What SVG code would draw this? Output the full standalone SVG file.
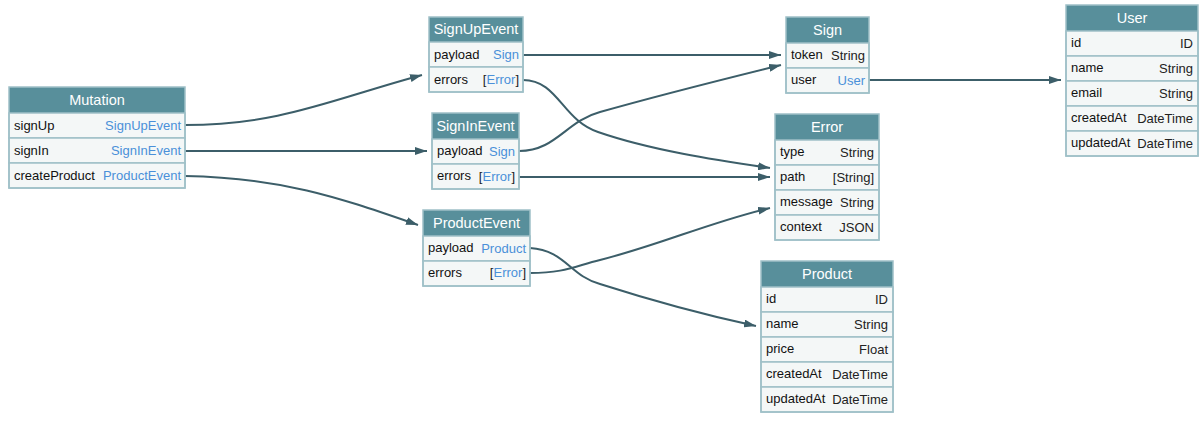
<svg xmlns="http://www.w3.org/2000/svg" width="1203" height="421" viewBox="0 0 1203 421">
  <style>
    .hdr { fill: #588f9b; }
    .row { fill: #f4f7f7; stroke: #9fc0c7; stroke-width: 1.5; }
    .frame { fill: none; stroke: #9fc0c7; stroke-width: 1.5; }
    text { font-family: "Liberation Sans", Arial, sans-serif; font-size: 13px; }
    .title { fill: #ffffff; font-size: 14.5px; text-anchor: middle; }
    .fld { fill: #111111; }
    .typ { fill: #222222; text-anchor: end; }
    .lnk { fill: #4a90d9; text-anchor: end; }
    .edge { fill: none; stroke: #3c5e69; stroke-width: 2; }
  </style>
  <defs>
    <marker id="arrow" viewBox="0 0 12 8" refX="12" refY="4" markerWidth="12" markerHeight="8" markerUnits="userSpaceOnUse" orient="auto">
      <path d="M0,0 L12,4 L0,8 Z" fill="#3c5e69"/>
    </marker>
  </defs>

  <!-- connectors -->
  <g id="connectors">
    <path class="edge" marker-end="url(#arrow)" d="M185,125 C280,125 330,100 422,75"/>
    <path class="edge" marker-end="url(#arrow)" d="M185,151 L427,151"/>
    <path class="edge" marker-end="url(#arrow)" d="M185,176 C285,178 340,198 418,225"/>
    <path class="edge" marker-end="url(#arrow)" d="M523,55 L781,55"/>
    <path class="edge" marker-end="url(#arrow)" d="M523,80 C558,80 562,120 598,132 C650,150 715,160 770,168"/>
    <path class="edge" marker-end="url(#arrow)" d="M519,151 C556,151 566,121 600,112 C660,95 720,80 781,65"/>
    <path class="edge" marker-end="url(#arrow)" d="M519,177 L770,177"/>
    <path class="edge" marker-end="url(#arrow)" d="M869,80 L1061,80"/>
    <path class="edge" marker-end="url(#arrow)" d="M530,248 C565,250 570,276 600,284 C650,300 700,314 756,326"/>
    <path class="edge" marker-end="url(#arrow)" d="M530,273 C565,273 575,266 600,260 C660,245 710,222 770,208"/>
  </g>

  <!-- Mutation -->
  <g id="node-Mutation">
    <rect class="hdr" x="9" y="87" width="176" height="26"/>
    <rect class="row" x="9" y="113" width="176" height="25"/>
    <rect class="row" x="9" y="138" width="176" height="25"/>
    <rect class="row" x="9" y="163" width="176" height="25"/>
    <rect class="frame" x="9" y="87" width="176" height="101"/>
    <text class="title" x="97" y="105">Mutation</text>
    <text class="fld" x="14" y="130">signUp</text><text class="lnk" x="181" y="130">SignUpEvent</text>
    <text class="fld" x="14" y="155">signIn</text><text class="lnk" x="181" y="155">SignInEvent</text>
    <text class="fld" x="14" y="180">createProduct</text><text class="lnk" x="181" y="180">ProductEvent</text>
  </g>

  <!-- SignUpEvent -->
  <g id="node-SignUpEvent">
    <rect class="hdr" x="429" y="17" width="94" height="25"/>
    <rect class="row" x="429" y="42" width="94" height="25"/>
    <rect class="row" x="429" y="67" width="94" height="25"/>
    <rect class="frame" x="429" y="17" width="94" height="75"/>
    <text class="title" x="476" y="34">SignUpEvent</text>
    <text class="fld" x="434" y="59">payload</text><text class="lnk" x="519" y="59">Sign</text>
    <text class="fld" x="434" y="84">errors</text>
    <text class="lnk" x="519" y="84"><tspan fill="#222">[</tspan>Error<tspan fill="#222">]</tspan></text>
  </g>

  <!-- SignInEvent -->
  <g id="node-SignInEvent">
    <rect class="hdr" x="432" y="113" width="87" height="26"/>
    <rect class="row" x="432" y="139" width="87" height="25"/>
    <rect class="row" x="432" y="164" width="87" height="25"/>
    <rect class="frame" x="432" y="113" width="87" height="76"/>
    <text class="title" x="475.5" y="131">SignInEvent</text>
    <text class="fld" x="437" y="155">payload</text><text class="lnk" x="515" y="156">Sign</text>
    <text class="fld" x="437" y="180">errors</text>
    <text class="lnk" x="515" y="181"><tspan fill="#222">[</tspan>Error<tspan fill="#222">]</tspan></text>
  </g>

  <!-- ProductEvent -->
  <g id="node-ProductEvent">
    <rect class="hdr" x="423" y="210" width="107" height="26"/>
    <rect class="row" x="423" y="236" width="107" height="25"/>
    <rect class="row" x="423" y="261" width="107" height="25"/>
    <rect class="frame" x="423" y="210" width="107" height="76"/>
    <text class="title" x="476.5" y="228">ProductEvent</text>
    <text class="fld" x="428" y="252">payload</text><text class="lnk" x="526" y="253">Product</text>
    <text class="fld" x="428" y="277">errors</text>
    <text class="lnk" x="526" y="277"><tspan fill="#222">[</tspan>Error<tspan fill="#222">]</tspan></text>
  </g>

  <!-- Sign -->
  <g id="node-Sign">
    <rect class="hdr" x="786" y="17" width="83" height="26"/>
    <rect class="row" x="786" y="43" width="83" height="25"/>
    <rect class="row" x="786" y="68" width="83" height="25"/>
    <rect class="frame" x="786" y="17" width="83" height="76"/>
    <text class="title" x="827.5" y="35">Sign</text>
    <text class="fld" x="791" y="59">token</text><text class="typ" x="865" y="60">String</text>
    <text class="fld" x="791" y="84">user</text><text class="lnk" x="865" y="85">User</text>
  </g>

  <!-- Error -->
  <g id="node-Error">
    <rect class="hdr" x="775" y="114" width="104" height="26"/>
    <rect class="row" x="775" y="140" width="104" height="25"/>
    <rect class="row" x="775" y="165" width="104" height="25"/>
    <rect class="row" x="775" y="190" width="104" height="25"/>
    <rect class="row" x="775" y="215" width="104" height="25"/>
    <rect class="frame" x="775" y="114" width="104" height="126"/>
    <text class="title" x="827" y="132">Error</text>
    <text class="fld" x="780" y="156">type</text><text class="typ" x="874" y="157">String</text>
    <text class="fld" x="780" y="181">path</text><text class="typ" x="874" y="182">[String]</text>
    <text class="fld" x="780" y="206">message</text><text class="typ" x="874" y="207">String</text>
    <text class="fld" x="780" y="231">context</text><text class="typ" x="874" y="232">JSON</text>
  </g>

  <!-- User -->
  <g id="node-User">
    <rect class="hdr" x="1066" y="5" width="132" height="26"/>
    <rect class="row" x="1066" y="31" width="132" height="25"/>
    <rect class="row" x="1066" y="56" width="132" height="25"/>
    <rect class="row" x="1066" y="81" width="132" height="25"/>
    <rect class="row" x="1066" y="106" width="132" height="25"/>
    <rect class="row" x="1066" y="131" width="132" height="25"/>
    <rect class="frame" x="1066" y="5" width="132" height="151"/>
    <text class="title" x="1132" y="23">User</text>
    <text class="fld" x="1071" y="47">id</text><text class="typ" x="1193" y="48">ID</text>
    <text class="fld" x="1071" y="72">name</text><text class="typ" x="1193" y="73">String</text>
    <text class="fld" x="1071" y="97">email</text><text class="typ" x="1193" y="98">String</text>
    <text class="fld" x="1071" y="122">createdAt</text><text class="typ" x="1193" y="123">DateTime</text>
    <text class="fld" x="1071" y="147">updatedAt</text><text class="typ" x="1193" y="148">DateTime</text>
  </g>

  <!-- Product -->
  <g id="node-Product">
    <rect class="hdr" x="761" y="261" width="132" height="26"/>
    <rect class="row" x="761" y="287" width="132" height="25"/>
    <rect class="row" x="761" y="312" width="132" height="25"/>
    <rect class="row" x="761" y="337" width="132" height="25"/>
    <rect class="row" x="761" y="362" width="132" height="25"/>
    <rect class="row" x="761" y="387" width="132" height="25"/>
    <rect class="frame" x="761" y="261" width="132" height="151"/>
    <text class="title" x="827" y="279">Product</text>
    <text class="fld" x="766" y="303">id</text><text class="typ" x="888" y="304">ID</text>
    <text class="fld" x="766" y="328">name</text><text class="typ" x="888" y="329">String</text>
    <text class="fld" x="766" y="353">price</text><text class="typ" x="888" y="354">Float</text>
    <text class="fld" x="766" y="378">createdAt</text><text class="typ" x="888" y="379">DateTime</text>
    <text class="fld" x="766" y="403">updatedAt</text><text class="typ" x="888" y="404">DateTime</text>
  </g>
</svg>
